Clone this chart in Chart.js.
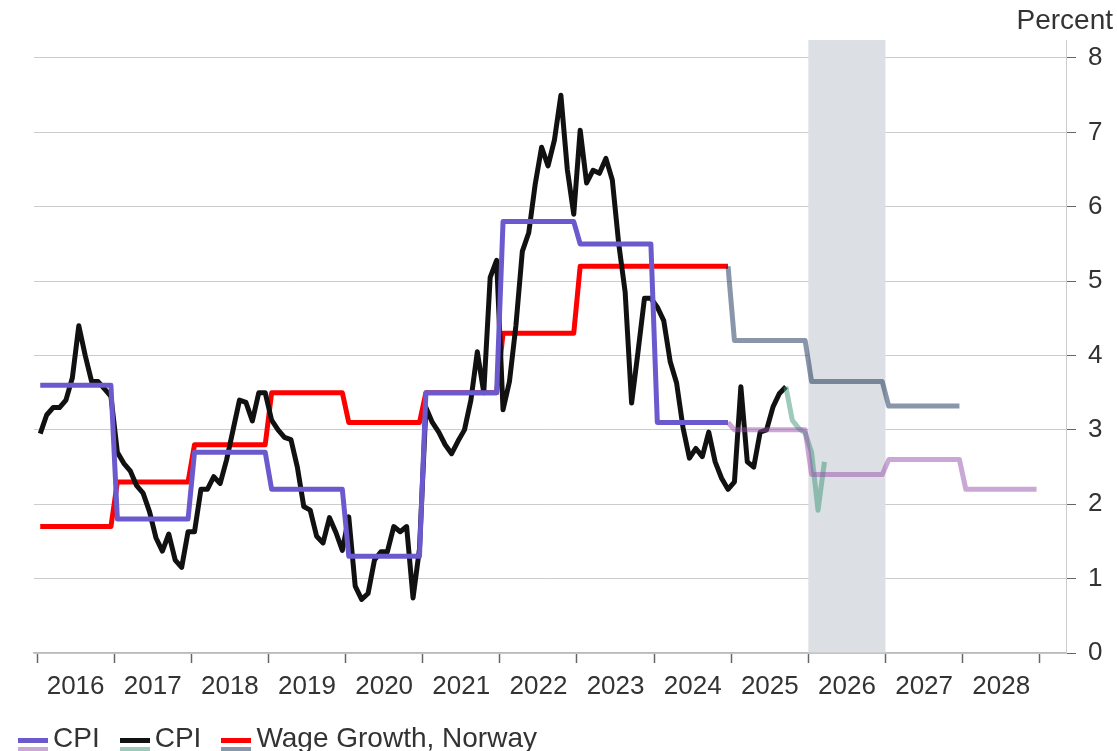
<!DOCTYPE html>
<html>
<head>
<meta charset="utf-8">
<script src="https://cdn.jsdelivr.net/npm/chart.js@4.4.1/dist/chart.umd.min.js"></script>
<style>
  html, body { margin: 0; padding: 0; background: #fff; }
  #wrap { position: relative; width: 1117px; height: 751px; overflow: hidden;
          font-family: "Liberation Sans", Arial, sans-serif; color: #333; }
  #chart { position: absolute; left: 0; top: 0; }
  #unit { position: absolute; right: 4px; top: 6px; font-size: 28px; line-height: 28px; }
  #legend { position: absolute; left: 18px; top: 724px; display: flex; font-size: 28px; line-height: 28px; white-space: nowrap; }
  .item { display: flex; margin-right: 20px; }
  .sw { width: 30px; height: 28px; margin-right: 5px; position: relative; }
  .sw i { position: absolute; left: 0; width: 30px; height: 5px; }
</style>
</head>
<body>
<div id="wrap">
  <canvas id="chart" width="1117" height="751"></canvas>
  <div id="unit">Percent</div>
  <div id="legend"></div>
</div>
<script>
// Årlige verdier (faktiske)
const years = [2016, 2017, 2018, 2019, 2020, 2021, 2022, 2023, 2024];
const cpiAnnual = [3.6, 1.8, 2.7, 2.2, 1.3, 3.5, 5.8, 5.5, 3.1];
const wageAnnual = [1.7, 2.3, 2.8, 3.5, 3.1, 3.5, 4.3, 5.2, 5.2];

// Prognoser
const cpiForecastYears = [2025, 2026, 2027, 2028];
const cpiForecast = [3.0, 2.4, 2.6, 2.2];
const wageForecastYears = [2025, 2026, 2027];
const wageForecast = [4.2, 3.65, 3.32];

// Månedlig KPI, jan 2016 - sep 2025
const cpiMonthlyStart = 2016;
const cpiMonthly = [
  2.95, 3.2, 3.3, 3.3, 3.4, 3.7, 4.4, 4.0, 3.65, 3.65, 3.55, 3.45,
  2.7, 2.55, 2.45, 2.25, 2.15, 1.9, 1.55, 1.37, 1.6, 1.25, 1.15, 1.63,
  1.63, 2.2, 2.2, 2.37, 2.28, 2.6, 3.0, 3.4, 3.37, 3.12, 3.5, 3.5,
  3.13, 3.0, 2.9, 2.87, 2.5, 1.97, 1.92, 1.57, 1.48, 1.82, 1.62, 1.38,
  1.83, 0.9, 0.72, 0.8, 1.25, 1.36, 1.36, 1.7, 1.63, 1.7, 0.74, 1.4,
  3.3, 3.1, 2.97, 2.8, 2.68, 2.85, 3.0, 3.4, 4.05, 3.5, 5.05, 5.28,
  3.27, 3.65, 4.4, 5.4, 5.65, 6.3, 6.8, 6.55, 6.9, 7.5, 6.5, 5.9,
  7.03, 6.32, 6.49, 6.45, 6.65, 6.36, 5.5, 4.85, 3.36, 4.05, 4.77, 4.77,
  4.65, 4.47, 3.92, 3.63, 3.03, 2.62, 2.75, 2.64, 2.97, 2.57, 2.35, 2.2,
  2.3, 3.58, 2.57, 2.5, 2.97, 3.0, 3.31, 3.49, 3.58
];
// Månedlig prognose, sep 2025 - mar 2026
const cpiMonthlyForecastStart = 2025 + 8 / 12;
const cpiMonthlyForecast = [3.58, 3.13, 3.02, 2.96, 2.7, 1.92, 2.57];

const tickYears = [2016, 2017, 2018, 2019, 2020, 2021, 2022, 2023, 2024, 2025, 2026, 2027, 2028, 2029];
const yTicks = [0, 1, 2, 3, 4, 5, 6, 7, 8];
const shadeFrom = 2026;
const shadeTo = 2027;

const colors = {
  cpi: '#6a5acd', cpiF: 'rgba(150, 80, 170, 0.5)',
  cpiM: '#111111', cpiMF: 'rgba(60, 150, 120, 0.5)',
  wage: '#ff0000', wageF: 'rgba(20, 45, 85, 0.5)'
};

const legendItems = [
  { label: 'CPI', top: colors.cpi, bottom: colors.cpiF },
  { label: 'CPI', top: colors.cpiM, bottom: colors.cpiMF },
  { label: 'Wage Growth, Norway', top: colors.wage, bottom: colors.wageF }
];

// Årlige verdier som trapp, punkt midt i januar og midt i desember
function annualSteps(ys, vals, startPoint) {
  const pts = startPoint ? [startPoint] : [];
  ys.forEach((y, i) => {
    pts.push({ x: y + 0.5 / 12, y: vals[i] });
    pts.push({ x: y + 11.5 / 12, y: vals[i] });
  });
  return pts;
}

function monthly(start, vals) {
  return vals.map((v, i) => ({ x: start + (i + 0.5) / 12, y: v }));
}

const cpiSteps = annualSteps(years, cpiAnnual);
const wageSteps = annualSteps(years, wageAnnual);
const cpiFSteps = annualSteps(cpiForecastYears, cpiForecast, cpiSteps[cpiSteps.length - 1]);
const wageFSteps = annualSteps(wageForecastYears, wageForecast, wageSteps[wageSteps.length - 1]);

function line(data, color) {
  return {
    data: data, borderColor: color, borderWidth: 5, pointRadius: 0,
    fill: false, tension: 0, borderJoinStyle: 'round'
  };
}

// Første datasett tegnes øverst
const datasets = [
  line(cpiFSteps, colors.cpiF),
  line(cpiSteps, colors.cpi),
  line(monthly(cpiMonthlyForecastStart, cpiMonthlyForecast), colors.cpiMF),
  line(monthly(cpiMonthlyStart, cpiMonthly), colors.cpiM),
  line(wageFSteps, colors.wageF),
  line(wageSteps, colors.wage)
];

const shadePlugin = {
  id: 'shade',
  beforeDatasetsDraw(chart) {
    const { ctx, chartArea, scales } = chart;
    const x0 = scales.x.getPixelForValue(shadeFrom);
    const x1 = scales.x.getPixelForValue(shadeTo);
    ctx.save();
    ctx.fillStyle = '#dcdfe3';
    ctx.fillRect(x0, chartArea.top, x1 - x0, chartArea.bottom - chartArea.top - 0.5);
    ctx.restore();
  }
};

const tickFont = { family: '"Liberation Sans", Arial, sans-serif', size: 26 };

new Chart(document.getElementById('chart').getContext('2d'), {
  type: 'line',
  data: { datasets: datasets },
  options: {
    responsive: false,
    animation: false,
    parsing: false,
    layout: { padding: { left: 32, top: 40, right: 0, bottom: 0 } },
    plugins: { legend: { display: false }, tooltip: { enabled: false } },
    scales: {
      x: {
        type: 'linear',
        min: 2015.96,
        max: 2029.34,
        afterBuildTicks: s => { s.ticks = tickYears.map(v => ({ value: v })); },
        afterFit: s => { s.height = 98; },
        grid: { drawOnChartArea: false, drawTicks: true, tickLength: 10, tickColor: '#666', tickWidth: 1.5 },
        border: { color: '#bbb', width: 1.5 },
        ticks: {
          autoSkip: false, maxRotation: 0, labelOffset: 38.6, padding: 8,
          font: tickFont, color: '#333',
          callback: v => (v < tickYears[tickYears.length - 1] ? String(v) : '')
        }
      },
      y: {
        position: 'right',
        min: 0,
        max: 8.242,
        afterBuildTicks: s => { s.ticks = yTicks.map(v => ({ value: v })); },
        afterFit: s => { s.width = 51; },
        grid: { color: '#cccccc', tickColor: '#666', tickLength: 10 },
        border: { color: '#cccccc' },
        ticks: { padding: 12, font: tickFont, color: '#333' }
      }
    }
  },
  plugins: [shadePlugin]
});

// Forklaring
const legend = document.getElementById('legend');
legendItems.forEach(it => {
  const item = document.createElement('div');
  item.className = 'item';
  const sw = document.createElement('div');
  sw.className = 'sw';
  const a = document.createElement('i');
  a.style.top = '14px';
  a.style.background = it.top;
  const b = document.createElement('i');
  b.style.top = '23px';
  b.style.background = it.bottom;
  sw.appendChild(a);
  sw.appendChild(b);
  const txt = document.createElement('span');
  txt.textContent = it.label;
  item.appendChild(sw);
  item.appendChild(txt);
  legend.appendChild(item);
});
</script>
</body>
</html>
